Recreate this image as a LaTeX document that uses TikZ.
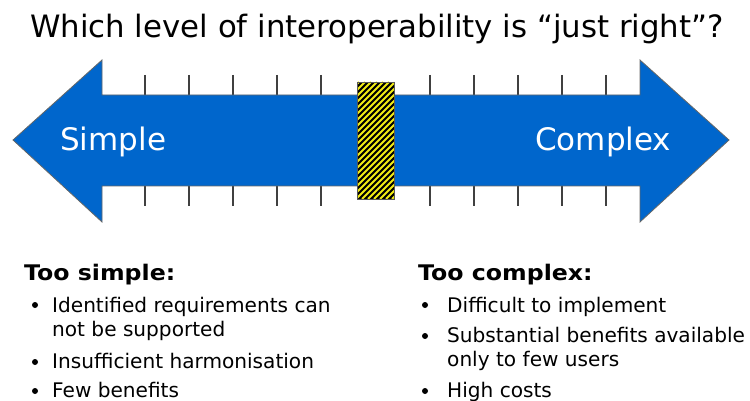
\documentclass[tikz,border=0pt]{standalone}
\usepackage{fontspec}
\setmainfont{DejaVu Sans}
\newfontfamily\headfont[FakeStretch=1.1]{DejaVu Sans}
\definecolor{arrowblue}{RGB}{0,102,204}
\definecolor{tickgray}{RGB}{64,64,64}
\definecolor{hazyellow}{RGB}{240,235,20}
\begin{document}
\begin{tikzpicture}[x=1pt,y=-1pt,
  tick/.style={draw=tickgray,line width=2.6pt},
  bodytext/.style={anchor=base west,inner sep=0pt,font=\fontsize{20.1}{24}\selectfont},
  headtext/.style={anchor=base west,inner sep=0pt,font=\fontsize{21.5}{26}\headfont\bfseries},
  bigword/.style={anchor=base west,inner sep=0pt,text=white,font=\fontsize{31}{36}\selectfont},
  bulletdot/.style={circle,fill=black,inner sep=0pt,minimum size=6pt}]
\useasboundingbox (0,0) rectangle (750,401);
% title
\node[anchor=base,inner sep=0pt,font=\fontsize{30.8}{36}\selectfont] (title) at (377,38) {Which level of interoperability is “just right”?};
% ticks
\foreach \x [count=\i] in {145,189,233,277,321,430,474,518,562,606}{
  \draw[tick] (\x,75) -- (\x,96);
  \draw[tick] (\x,185) -- (\x,206);
}
% double arrow
\draw[fill=arrowblue,draw=gray!80!black,line width=0.8pt]
  (13,140) -- (102,60) -- (102,95) -- (640,95) -- (640,60) -- (729,140)
  -- (640,222) -- (640,186) -- (102,186) -- (102,222) -- cycle;
\node[bigword] (simple) at (60,150) {Simple};
\node[bigword] (complex) at (535,150) {Complex};
% hazard bar
\fill[black] (357,82) rectangle (394,199);
\begin{scope}
  \clip (357,82) rectangle (394,199);
  \foreach \k in {230,236,...,400}{
    \draw[hazyellow,line width=2.1pt] (\k,199) -- (\k+117,82);
  }
\end{scope}
\draw[gray!70!black,line width=0.8pt] (357,82) rectangle (394,199);
% left column
\node[headtext] (lhead) at (24,280) {Too simple:};
\node[bulletdot] (lb1) at (35,305) {};
\node[bodytext] (l1a) at (52,312) {Identified requirements can};
\node[bodytext] (l1b) at (52,336) {not be supported};
\node[bulletdot] (lb2) at (35,362) {};
\node[bodytext] (l2) at (52,368) {Insufficient harmonisation};
\node[bulletdot] (lb3) at (35,391) {};
\node[bodytext] (l3) at (52,397) {Few benefits};
% right column
\node[headtext] (rhead) at (418,280) {Too complex:};
\node[bulletdot] (rb1) at (425,305) {};
\node[bodytext] (r1) at (447,312) {Difficult to implement};
\node[bulletdot] (rb2) at (425,336) {};
\node[bodytext] (r2a) at (447,342) {Substantial benefits available};
\node[bodytext] (r2b) at (447,366) {only to few users};
\node[bulletdot] (rb3) at (425,391) {};
\node[bodytext] (r3) at (447,397) {High costs};
\end{tikzpicture}
\end{document}
